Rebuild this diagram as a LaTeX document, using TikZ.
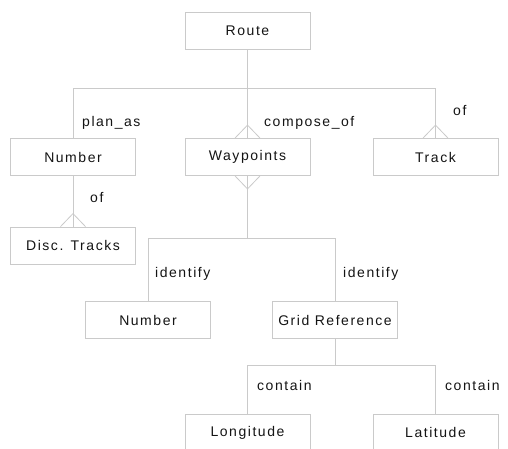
\documentclass[tikz,border=0pt]{standalone}
\usepackage{fontspec}
\setmainfont{Liberation Sans}[LetterSpace=11]
\usetikzlibrary{calc}
\definecolor{linegray}{HTML}{CACACA}
\definecolor{inkgray}{HTML}{141414}
\tikzset{
  entity/.style={draw=linegray, line width=0.8pt, fill=white, minimum width=125pt,
    minimum height=37pt, inner sep=0pt, text=inkgray, font=\fontsize{14}{16}\selectfont},
  rel/.style={draw=linegray, line width=0.8pt},
  lbl/.style={anchor=base west, inner sep=0pt, text=inkgray, font=\fontsize{14}{16}\selectfont},
}
% crow's foot ending on a box edge: #1 = anchor point, #2 = +1 (opens downwards) / -1 (opens upwards)
\newcommand{\crowfoot}[2]{%
  \draw[rel] ($(#1)+(-12.5,0)$) -- ($(#1)+(0,#2*13)$) -- ($(#1)+(12.5,0)$);}
\begin{document}
\begin{tikzpicture}[x=1pt, y=-1pt]
\useasboundingbox (0,0) rectangle (508,448);
\clip (0,0) rectangle (508,448);

% entities
\node[entity] (route) at (247.5,30.5) {Route};
\node[entity] (num)   at (73,157)     {Number};
\node[entity] (wp)    at (247.5,157)  {Waypoints};
\node[entity] (trk)   at (435.5,157)  {Track};
\node[entity] (disc)  at (73,245.5)   {Disc. Tracks};
\node[entity] (num2)  at (148,320)    {Number};
\node[entity] (grid)  at (335,320)    {Grid Reference};
\node[entity] (lon)   at (247.5,432.5){Longitude};
\node[entity] (lat)   at (435.5,432.5){Latitude};

% bus junctions
\coordinate (bus1) at (247.5,88);
\coordinate (bus2) at (247.5,238);
\coordinate (bus3) at (335,365);

% Route relationships
\draw[rel] (route.south) -- (wp.north);
\draw[rel] (num.north) -- (num.north |- bus1) -- (trk.north |- bus1) -- (trk.north);
\crowfoot{wp.north}{-1}
\crowfoot{trk.north}{-1}

% Number -- Disc. Tracks
\draw[rel] (num.south) -- (disc.north);
\crowfoot{disc.north}{-1}

% Waypoints relationships
\draw[rel] (wp.south) -- (bus2);
\crowfoot{wp.south}{1}
\draw[rel] (num2.north) -- (num2.north |- bus2) -- (grid.north |- bus2) -- (grid.north);

% Grid Reference relationships
\draw[rel] (grid.south) -- (bus3);
\draw[rel] (lon.north) -- (lon.north |- bus3) -- (lat.north |- bus3) -- (lat.north);

% relationship labels
\node[lbl] (lplan) at (82,126)  {plan\_as};
\node[lbl] (lcomp) at (264,126) {compose\_of};
\node[lbl] (lof1)  at (453,115) {of};
\node[lbl] (lof2)  at (90,202)  {of};
\node[lbl] (lid1)  at (155,277) {identify};
\node[lbl] (lid2)  at (343,277) {identify};
\node[lbl] (lcon1) at (257,390) {contain};
\node[lbl] (lcon2) at (445,390) {contain};
\end{tikzpicture}
\end{document}
